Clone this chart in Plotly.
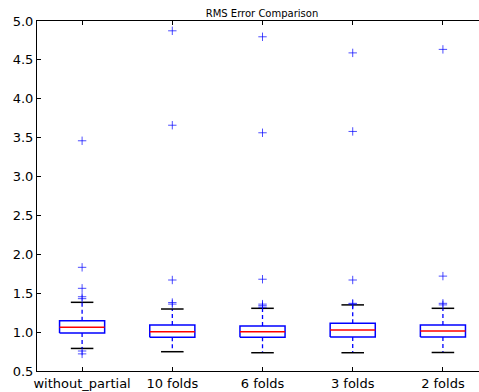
import plotly.graph_objects as go

categories = ["without_partial", "10 folds", "6 folds", "3 folds", "2 folds"]
q1 = [0.99, 0.935, 0.933, 0.937, 0.937]
median = [1.062, 1.005, 1.005, 1.027, 1.014]
q3 = [1.147, 1.09, 1.08, 1.113, 1.09]
whisker_low = [0.79, 0.748, 0.735, 0.735, 0.738]
whisker_high = [1.383, 1.297, 1.306, 1.35, 1.306]
fliers_without_partial = [3.46, 1.833, 1.563, 1.455, 1.43, 0.757, 0.72]
fliers_10_folds = [4.874, 3.66, 1.67, 1.38, 1.36]
fliers_6_folds = [4.797, 3.563, 1.68, 1.36, 1.34, 1.32]
fliers_3_folds = [4.59, 3.58, 1.67, 1.37, 1.36]
fliers_2_folds = [4.635, 1.72, 1.37, 1.35]
fliers = [fliers_without_partial, fliers_10_folds, fliers_6_folds,
          fliers_3_folds, fliers_2_folds]
y_ticks = [0.5, 1.0, 1.5, 2.0, 2.5, 3.0, 3.5, 4.0, 4.5, 5.0]

positions = list(range(1, len(categories) + 1))
half_box = 0.25
half_cap = 0.125

bx, by, mx, my, wx, wy, cx, cy, fx, fy = ([] for _ in range(10))
for p, a, m, b, lo, hi, fl in zip(positions, q1, median, q3, whisker_low,
                                   whisker_high, fliers):
    bx += [p - half_box, p + half_box, p + half_box, p - half_box, p - half_box, None]
    by += [a, a, b, b, a, None]
    mx += [p - half_box, p + half_box, None]
    my += [m, m, None]
    wx += [p, p, None, p, p, None]
    wy += [b, hi, None, a, lo, None]
    cx += [p - half_cap, p + half_cap, None, p - half_cap, p + half_cap, None]
    cy += [hi, hi, None, lo, lo, None]
    fx += [p] * len(fl)
    fy += fl

fig = go.Figure()
fig.add_trace(go.Scatter(x=wx, y=wy, mode="lines",
                         line=dict(color="#0000ff", width=1.3, dash="4px,3px"),
                         hoverinfo="skip"))
fig.add_trace(go.Scatter(x=bx, y=by, mode="lines",
                         line=dict(color="#0000ff", width=1.5), hoverinfo="skip"))
fig.add_trace(go.Scatter(x=mx, y=my, mode="lines",
                         line=dict(color="#ff0000", width=1.5), hoverinfo="skip"))
fig.add_trace(go.Scatter(x=cx, y=cy, mode="lines",
                         line=dict(color="#000000", width=1.5), hoverinfo="skip"))
fig.add_trace(go.Scatter(x=fx, y=fy, mode="markers",
                         marker=dict(symbol="cross-thin", size=6,
                                     line=dict(color="rgba(0,0,255,0.7)", width=1)),
                         hoverinfo="skip"))

fig.update_layout(
    width=479, height=392,
    margin=dict(l=37, r=0, t=21, b=21),
    paper_bgcolor="white", plot_bgcolor="white",
    showlegend=False,
    font=dict(family="DejaVu Sans", color="black", size=13),
    title=dict(text="RMS Error Comparison", x=262 / 479, xanchor="center",
               y=1 - 13 / 392, yanchor="middle",
               font=dict(size=10, family="DejaVu Sans", color="black")),
)
fig.update_xaxes(
    range=[0.5, 5.4], tickmode="array", tickvals=positions, ticktext=categories,
    ticks="inside", ticklen=4, tickcolor="black", showgrid=False, zeroline=False,
    showline=True, linecolor="black", linewidth=1, mirror="ticks",
    tickfont=dict(size=13),
)
fig.update_yaxes(
    range=[0.5, 5.0], tickmode="array", tickvals=y_ticks,
    ticktext=["%.1f" % v for v in y_ticks],
    ticks="inside", ticklen=4, tickcolor="black", showgrid=False, zeroline=False,
    showline=True, linecolor="black", linewidth=1,
    tickfont=dict(size=13),
)

fig.write_html("out.html", config={"displayModeBar": False},
               post_script="document.body.style.margin='0';"
                           "document.body.style.overflow='hidden';")
